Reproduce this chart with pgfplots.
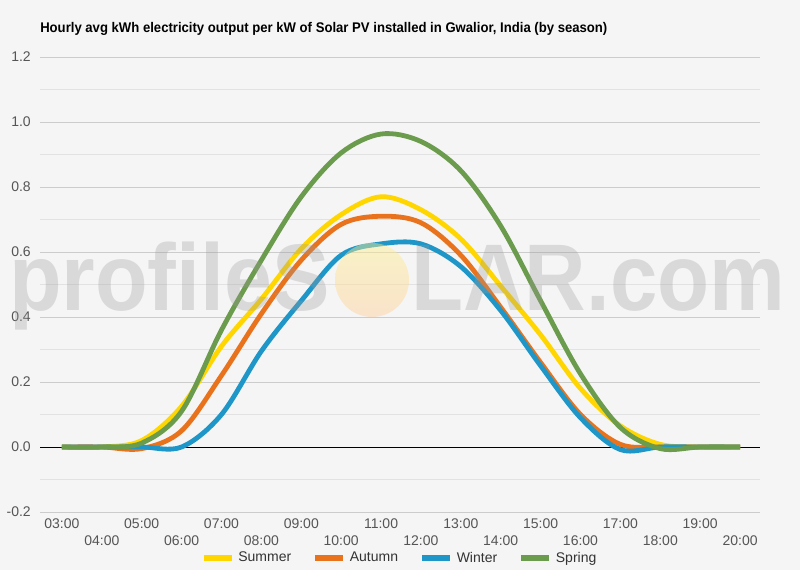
\documentclass[border=0pt]{standalone}
\usepackage{pgfplots}
\pgfplotsset{compat=1.18}
\usepackage{fontspec}
\setmainfont{Liberation Sans}
\definecolor{bg}{HTML}{F5F5F5}
\definecolor{gridmaj}{HTML}{CCCCCC}
\definecolor{gridmin}{HTML}{E2E2E2}
\definecolor{ticktxt}{HTML}{555555}
\definecolor{summer}{HTML}{FFD600}
\definecolor{autumn}{HTML}{E8731C}
\definecolor{winter}{HTML}{1E96C8}
\definecolor{spring}{HTML}{6B9B4C}
\definecolor{wm}{HTML}{9A9A9A}
\begin{document}
\begin{tikzpicture}
\fill[bg] (0pt,0pt) rectangle (600pt,427.5pt);
\useasboundingbox (0pt,0pt) rectangle (600pt,427.5pt);
\node[anchor=base west, font=\bfseries\fontsize{10.5}{12}\selectfont, text=black, inner sep=0pt, xscale=0.937] at (30pt,402.75pt)
  {Hourly avg kWh electricity output per kW of Solar PV installed in Gwalior, India (by season)};
\begin{axis}[
  at={(30pt,43.5pt)}, anchor=south west,
  scale only axis, width=540pt, height=341.25pt,
  xmin=2.45, xmax=20.5, ymin=-0.2, ymax=1.2,
  axis line style={draw=none},
  major tick length=0pt, minor tick length=0pt,
  ymajorgrids, yminorgrids,
  major grid style={gridmaj, line width=0.6pt},
  minor grid style={gridmin, line width=0.6pt},
  ytick={-0.2,0,0.2,0.4,0.6,0.8,1.0,1.2},
  minor ytick={-0.1,0.1,0.3,0.5,0.7,0.9,1.1},
  /pgf/number format/fixed,
  /pgf/number format/fixed zerofill,
  /pgf/number format/precision=1,
  /pgf/number format/assume math mode=true,
  y tick label style={anchor=east, inner sep=0pt, xshift=-6.75pt, text=ticktxt, font=\fontsize{10.5}{12}\selectfont},
  xtick={3,5,...,19},
  xticklabels={03:00,05:00,07:00,09:00,11:00,13:00,15:00,17:00,19:00},
  x tick label style={anchor=north, inner sep=0pt, yshift=-4.5pt, text=ticktxt, font=\fontsize{10.5}{12}\selectfont},
  extra x ticks={4,6,...,20},
  extra x tick labels={04:00,06:00,08:00,10:00,12:00,14:00,16:00,18:00,20:00},
  extra x tick style={xticklabel style={yshift=-12.75pt}},
  extra y ticks={0},
  extra y tick labels={},
  extra y tick style={ymajorgrids, major grid style={black, line width=0.6pt}},
  legend columns=4,
  legend style={at={(0.5,0)}, anchor=center, yshift=-34.5pt, draw=none, fill=none,
    font=\fontsize{10.5}{12}\selectfont, text=black!80,
    /tikz/every odd column/.append style={column sep=1pt},
    /tikz/every even column/.append style={column sep=14pt}},
  legend image code/.code={\draw[#1, line width=4pt] (0pt,0pt) -- (21pt,0pt);},
  every axis plot/.append style={line width=3.6pt, smooth, tension=0.55, line join=round},
]
\addplot[summer] coordinates {
(3,0) (4,0) (5,0.02) (6,0.125) (7,0.31) (8,0.455) (9,0.61) (10,0.715) (11,0.77) (12,0.73)
(13,0.64) (14,0.495) (15,0.345) (16,0.18) (17,0.065) (18,0.008) (19,0) (20,0)};
\addlegendentry{Summer}
\addplot[autumn] coordinates {
(3,0) (4,0) (5,-0.005) (6,0.05) (7,0.22) (8,0.41) (9,0.575) (10,0.685) (11,0.71) (12,0.69)
(13,0.59) (14,0.43) (15,0.26) (16,0.10) (17,0.008) (18,0) (19,0) (20,0)};
\addlegendentry{Autumn}
\addplot[winter] coordinates {
(3,0) (4,0) (5,0) (6,0) (7,0.10) (8,0.295) (9,0.45) (10,0.59) (11,0.625) (12,0.625)
(13,0.555) (14,0.42) (15,0.25) (16,0.09) (17,-0.008) (18,0) (19,0) (20,0)};
\addlegendentry{Winter}
\addplot[spring] coordinates {
(3,0) (4,0) (5,0.012) (6,0.11) (7,0.36) (8,0.575) (9,0.77) (10,0.905) (11,0.963) (12,0.94)
(13,0.85) (14,0.68) (15,0.45) (16,0.225) (17,0.06) (18,-0.005) (19,0) (20,0)};
\addlegendentry{Spring}
\end{axis}
% watermark
\shade[top color={rgb,255:red,255;green,240;blue,140}, bottom color={rgb,255:red,255;green,205;blue,150}, opacity=0.45]
  (279pt,217.5pt) circle (27.75pt);
\node[anchor=base east, font=\bfseries\fontsize{71}{71}\selectfont, text=wm, opacity=0.3, inner sep=0pt, xscale=0.91] at (247.5pt,194.25pt) {profileS};
\node[anchor=base west, font=\bfseries\fontsize{71}{71}\selectfont, text=wm, opacity=0.3, inner sep=0pt, xscale=0.9] at (308.25pt,194.25pt) {LAR.com};
\end{tikzpicture}
\end{document}
